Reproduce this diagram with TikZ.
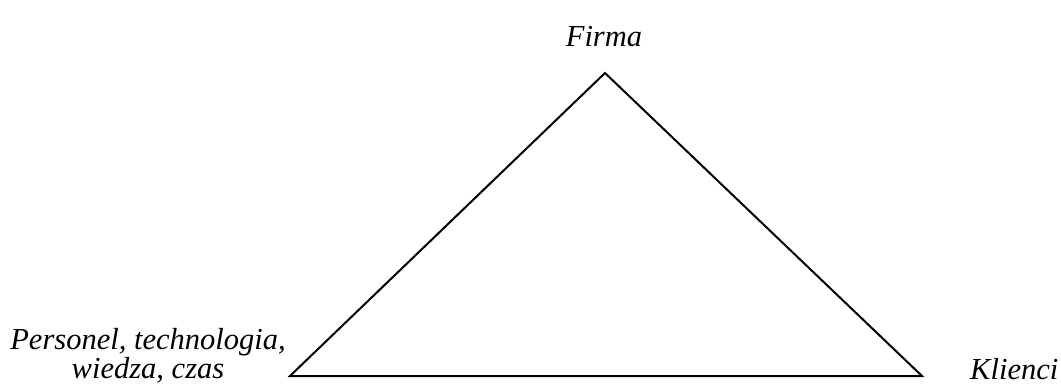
\documentclass[tikz,border=0pt]{standalone}
\usepackage{fontspec}
\setmainfont{Liberation Serif}
\usetikzlibrary{positioning}

\tikzset{
  lab/.style={font=\fontsize{30.5}{26}\selectfont\itshape, inner sep=0pt, align=center},
  side/.style={line width=2pt, line join=miter}
}

\begin{document}
\begin{tikzpicture}[x=1pt, y=-1pt]
    \useasboundingbox (0,0) rectangle (1061,385);

    % corners of the triangle
    \coordinate (top) at (605,73);
    \coordinate (left) at (290,376);
    \coordinate (right) at (922,376);

    % triangle
    \draw[side] (top) -- (right) -- (left) -- cycle;

    % labels
    \node[lab] (firma) at (604,37) {Firma};
    \node[lab] (zasoby) at (148,356) {Personel, technologia,\\wiedza, czas};
    \node[lab, anchor=base west] (klienci) at (970,379) {Klienci};

\end{tikzpicture}
\end{document}
